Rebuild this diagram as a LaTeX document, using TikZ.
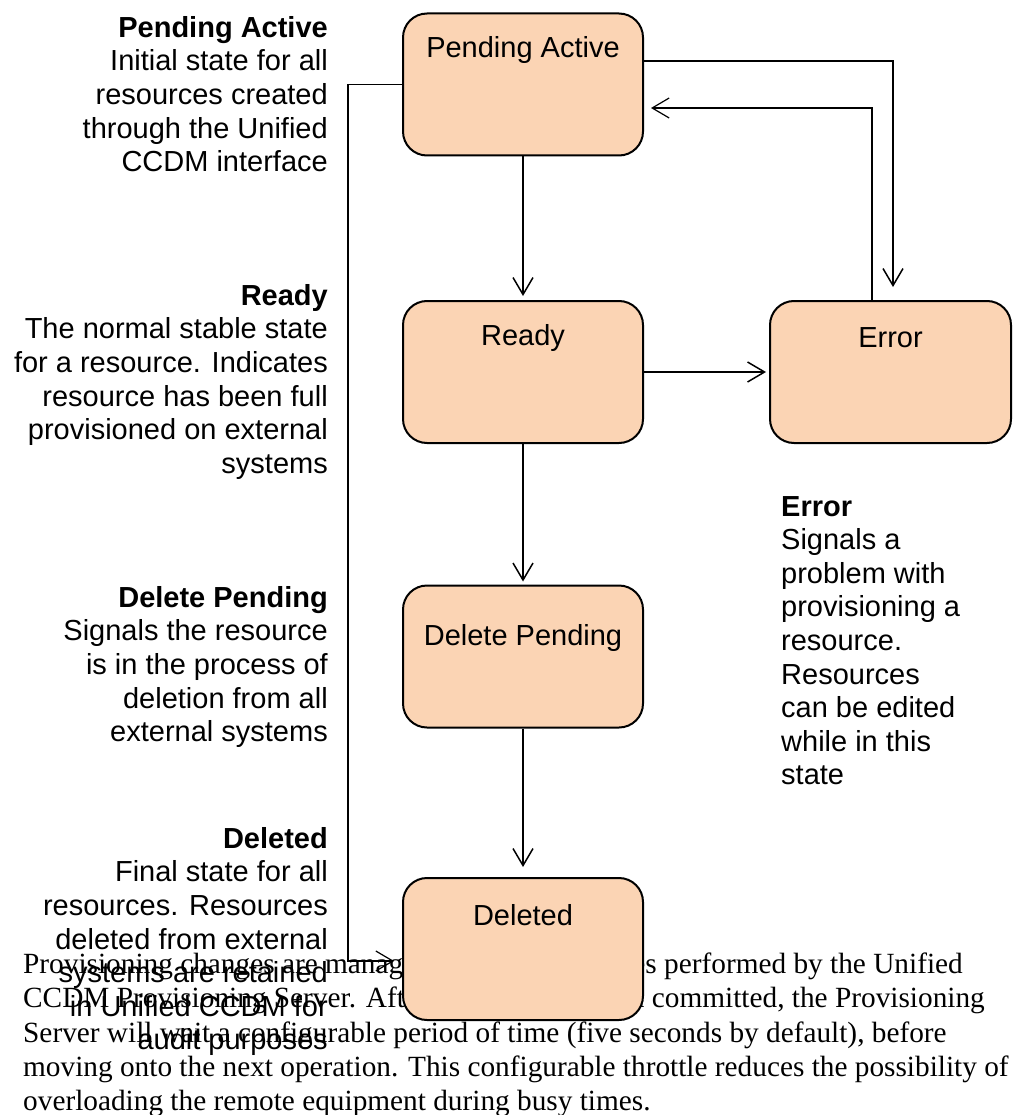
\documentclass[tikz,border=0pt]{standalone}
\usepackage{fontspec}
\setmainfont{Liberation Sans}
\newfontfamily\serifpara{Liberation Serif}
\usetikzlibrary{arrows.meta}
\definecolor{peach}{HTML}{FBD4B4}
\begin{document}
\begin{tikzpicture}[x=1pt,y=-1pt,
  box/.style={draw=black, line width=2pt, fill=peach, rounded corners=24pt,
    minimum width=240pt, minimum height=142pt, inner sep=0pt},
  boxtext/.style={font=\fontsize{29}{33.6}\selectfont, anchor=center, yshift=-38pt},
  desc/.style={font=\fontsize{29}{33.6}\selectfont, inner sep=0pt},
  para/.style={font=\serifpara\fontsize{29.3}{34}\selectfont, inner sep=0pt},
  conn/.style={line width=1.5pt, -{Straight Barb[length=17pt,width=20pt]}}]
\useasboundingbox[fill=white] (0,0) rectangle (1013,1115);

% paragraph (underneath the Deleted box)
\node[para, anchor=base west] (p1a) at (23,973) {Provisioning changes are managed};
\node[para, anchor=base east] (p1b) at (963,973) {es performed by the Unified};
\node[para, anchor=base west] (p2a) at (23,1007.5) {CCDM Provisioning Server. After};
\node[para, anchor=base east] (p2b) at (985,1007.5) {en committed, the Provisioning};
\node[para, anchor=base west] (p3) at (23,1042) {Server will wait a configurable period of time (five seconds by default), before};
\node[para, anchor=base west] (p4) at (23,1076) {moving onto the next operation. This configurable throttle reduces the possibility of};
\node[para, anchor=base west] (p5) at (23,1110) {overloading the remote equipment during busy times.};

% descriptions
\node[desc, align=right, anchor=north east] (dpa) at (328,16)
  {\textbf{Pending Active}\\Initial state for all\\resources created\\through the Unified\\CCDM interface};
\node[desc, align=right, anchor=north east] (drd) at (328,284)
  {\textbf{Ready}\\The normal stable state\\for a resource. Indicates\\resource has been full\\provisioned on external\\systems};
\node[desc, align=right, anchor=north east] (ddp) at (328,586)
  {\textbf{Delete Pending}\\Signals the resource\\is in the process of\\deletion from all\\external systems};
\node[desc, align=right, anchor=north east] (ddl) at (328,827)
  {\textbf{Deleted}\\Final state for all\\resources. Resources\\deleted from external\\systems are retained\\in Unified CCDM for\\audit purposes};
\node[desc, align=left, anchor=north west] (der) at (781,496)
  {\textbf{Error}\\Signals a\\problem with\\provisioning a\\resource.\\Resources\\can be edited\\while in this\\state};

% state boxes
\node[box, label={[boxtext]north:Pending Active}] (pa) at (523,84.5) {};
\node[box, label={[boxtext]north:Ready}] (ready) at (523,372) {};
\node[box, minimum width=241pt, label={[boxtext]north:Error}] (err) at (890.5,372) {};
\node[box, label={[boxtext, yshift=-15pt]north:Delete Pending}] (dp) at (523,656.5) {};
\node[box, label={[boxtext]north:Deleted}] (del) at (523,949) {};

\coordinate (lc) at (348,84.5);

% connectors
\draw[conn, shorten >=4pt] (pa.south) -- (ready.north);
\draw[conn, shorten >=13pt] ([yshift=23.5pt]pa.east) -| ([xshift=2.5pt]err.north);
\draw[conn, line width=1.2pt, shorten >=7pt] ([xshift=-18.5pt]err.north) |- ([yshift=-23.5pt]pa.east);
\draw[conn, shorten >=3pt] (ready.east) -- (err.west);
\draw[conn, shorten >=3pt] (ready.south) -- (dp.north);
\draw[conn, shorten >=10pt] (dp.south) -- (del.north);
\draw[conn, line width=1.2pt, shorten >=8pt] (pa.west) -- (lc) |- ([yshift=-12pt]del.west);
\end{tikzpicture}
\end{document}
